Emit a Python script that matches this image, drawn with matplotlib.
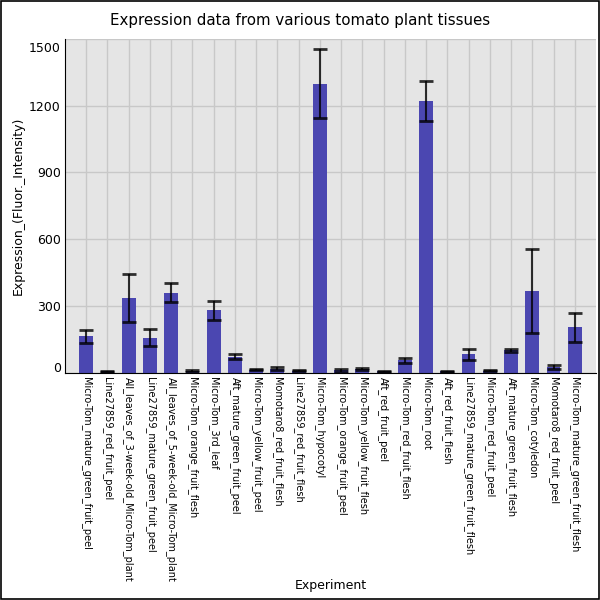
import matplotlib
matplotlib.use("Agg")
from matplotlib import pyplot as plt
from matplotlib.patches import Rectangle
import matplotlib.transforms as mtransforms

tissues = [
    "Micro-Tom_mature_green_fruit_peel",
    "Line27859_red_fruit_peel",
    "All_leaves_of_3-week-old_Micro-Tom_plant",
    "Line27859_mature_green_fruit_peel",
    "All_leaves_of_5-week-old_Micro-Tom_plant",
    "Micro-Tom_orange_fruit_flesh",
    "Micro-Tom_3rd_leaf",
    "Aft_mature_green_fruit_peel",
    "Micro-Tom_yellow_fruit_peel",
    "Momotaro8_red_fruit_flesh",
    "Line27859_red_fruit_flesh",
    "Micro-Tom_hypocotyl",
    "Micro-Tom_orange_fruit_peel",
    "Micro-Tom_yellow_fruit_flesh",
    "Aft_red_fruit_peel",
    "Micro-Tom_red_fruit_flesh",
    "Micro-Tom_root",
    "Aft_red_fruit_flesh",
    "Line27859_mature_green_fruit_flesh",
    "Micro-Tom_red_fruit_peel",
    "Aft_mature_green_fruit_flesh",
    "Micro-Tom_cotyledon",
    "Momotaro8_red_fruit_peel",
    "Micro-Tom_mature_green_fruit_flesh",
]
expression = [163, 6, 336, 158, 360, 8, 280, 72, 14, 18, 8, 1299,
              10, 17, 6, 55, 1222, 6, 82, 9, 100, 368, 24, 204]
errors = [29, 3, 107, 40, 43, 3, 43, 10, 3, 8, 2, 154,
          5, 5, 3, 12, 90, 3, 26, 3, 8, 188, 9, 66]
y_ticks = [0, 300, 600, 900, 1200, 1500]

fig = plt.figure(figsize=(6, 6), dpi=100)
ax = fig.add_axes([65 / 600, 1 - 372.7 / 600, 531 / 600, 333.7 / 600])
ax.set_facecolor("#e5e5e5")

x = list(range(len(tissues)))
ax.bar(x, expression, width=0.65, color="#4b47b1", zorder=2)
ax.errorbar(x, expression, yerr=errors, fmt="none", ecolor="black",
            elinewidth=1.5, capsize=5, capthick=2, alpha=0.8, zorder=3)

ax.set_xlim(-1, len(tissues))
ax.set_ylim(0, 1500)
ax.set_xticks(x)
ax.set_xticklabels(tissues, rotation=270, fontsize=7)
ax.set_yticks(y_ticks)
ax.set_yticklabels([str(t) for t in y_ticks], fontsize=9)
ax.tick_params(length=0, pad=3)
ax.grid(True, color="#c8c8c8", linewidth=1, zorder=0)
ax.set_axisbelow(True)

for s in ["top", "right"]:
    ax.spines[s].set_visible(False)
ax.spines["left"].set_color("black")
ax.spines["bottom"].set_color("black")

# keep end labels inside the axes
ylabels = ax.get_yticklabels()
ylabels[0].set_transform(ylabels[0].get_transform() +
                         mtransforms.ScaledTranslation(0, 6 / 100, fig.dpi_scale_trans))
ylabels[-1].set_transform(ylabels[-1].get_transform() +
                          mtransforms.ScaledTranslation(0, -8 / 100, fig.dpi_scale_trans))

ax.set_ylabel("Expression_(Fluor._Intensity)", fontsize=9, labelpad=3)
ax.set_xlabel("Experiment", fontsize=9)
ax.xaxis.set_label_coords(0.5, -(579 - 372.7) / 333.7)

fig.text(0.5, 1 - 20 / 600, "Expression data from various tomato plant tissues",
         ha="center", va="center", fontsize=10.8)

fig.patches.append(Rectangle((0.001, 0.001), 0.997, 0.997, transform=fig.transFigure,
                             fill=False, edgecolor="black", linewidth=1.2))

fig.savefig("out.png", dpi=100)
